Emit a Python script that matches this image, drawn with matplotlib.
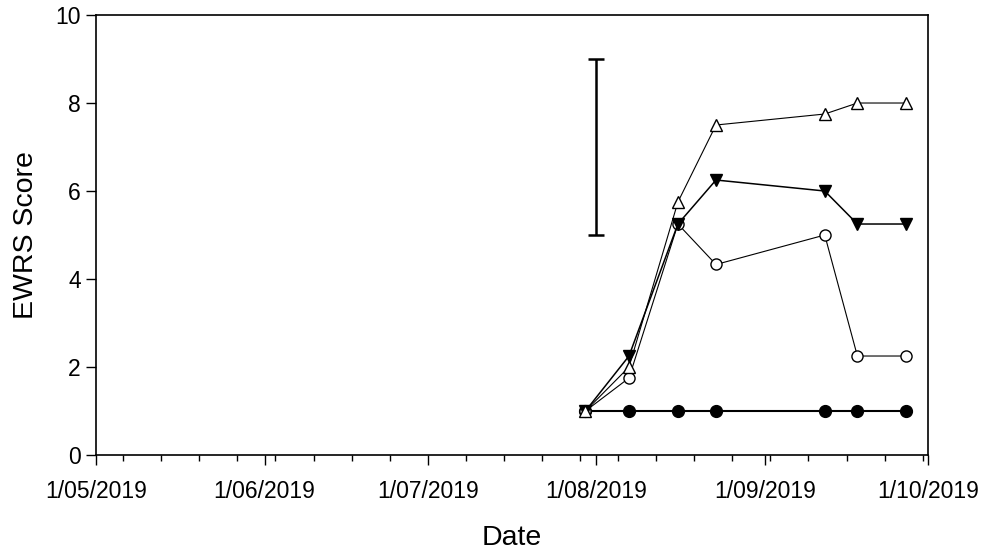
import matplotlib
matplotlib.use("Agg")
import matplotlib.pyplot as plt
import matplotlib.dates as mdates
import pandas as pd

plt.rcParams["font.family"] = ["Liberation Sans", "DejaVu Sans"]

# Sampling dates and EWRS scores per treatment
dates = pd.to_datetime([
    "2019-07-30", "2019-08-07", "2019-08-16", "2019-08-23",
    "2019-09-12", "2019-09-18", "2019-09-27",
])
filled_circle = [1, 1, 1, 1, 1, 1, 1]
open_circle = [1, 1.75, 5.25, 4.33, 5.0, 2.25, 2.25]
filled_tri_down = [1, 2.25, 5.25, 6.25, 6.0, 5.25, 5.25]
open_tri_up = [1, 2.0, 5.75, 7.5, 7.75, 8.0, 8.0]

# LSD bar
lsd_date = pd.to_datetime("2019-08-01")
lsd_mid = 7.0
lsd_half = 2.0

fig = plt.figure(figsize=(9.87, 5.5), dpi=100)
ax = fig.add_axes([0.0973, 0.1727, 0.8430, 0.80])

ax.plot(dates, filled_circle, color="black", lw=1.5, marker="o", ms=8.5,
        mfc="black", mec="black", zorder=3)
ax.plot(dates, open_circle, color="black", lw=0.8, marker="o", ms=8,
        mfc="white", mec="black", mew=1.0, zorder=4)
ax.plot(dates, filled_tri_down, color="black", lw=1.1, marker="v", ms=9,
        mfc="black", mec="black", zorder=5)
ax.plot(dates, open_tri_up, color="black", lw=0.8, marker="^", ms=9,
        mfc="white", mec="black", mew=1.0, zorder=6)

ax.errorbar([lsd_date], [lsd_mid], yerr=[lsd_half], fmt="none",
            ecolor="black", elinewidth=1.8, capsize=6, capthick=1.8)

ax.set_xlim(pd.Timestamp("2019-05-01"), pd.Timestamp("2019-10-01"))
ax.set_ylim(0, 10)
ax.set_yticks([0, 2, 4, 6, 8, 10])

ax.xaxis.set_major_locator(mdates.MonthLocator())
ax.xaxis.set_major_formatter(
    matplotlib.ticker.FuncFormatter(
        lambda v, pos: "1/%s" % mdates.num2date(v).strftime("%m/%Y")))
ax.xaxis.set_minor_locator(mdates.WeekdayLocator(byweekday=mdates.MO))

ax.tick_params(axis="both", which="major", direction="out", length=7,
               width=1.0, labelsize=16.5, color="black")
ax.tick_params(axis="x", which="minor", direction="out", length=4.5,
               width=1.0)
ax.tick_params(axis="x", which="major", pad=11)
ax.tick_params(axis="y", which="major", pad=4)

for s in ax.spines.values():
    s.set_linewidth(1.2)

ax.set_xlabel("Date", fontsize=20.5, labelpad=16)
ax.set_ylabel("EWRS Score", fontsize=20.5, labelpad=12)

fig.savefig("out.png", dpi=100)
